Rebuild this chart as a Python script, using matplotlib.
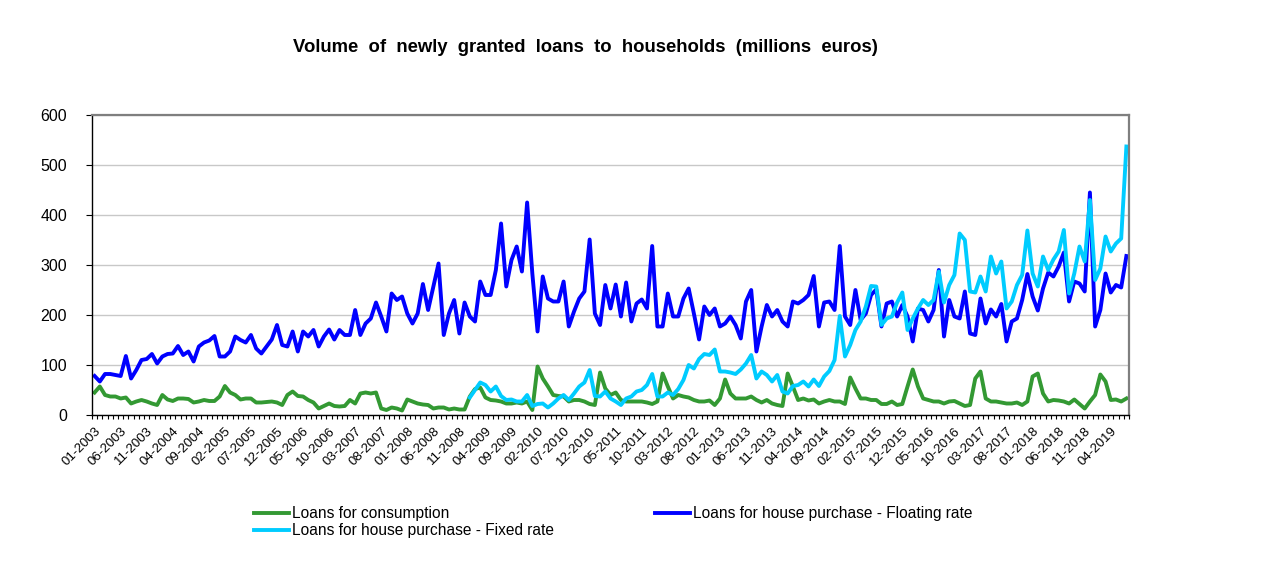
import numpy as np
import pandas as pd
import matplotlib
matplotlib.use("Agg")
import matplotlib.pyplot as plt

plt.rcParams["font.family"] = ["Liberation Sans", "DejaVu Sans"]

# ------------------------------------------------------------
# Data (millions of euros), monthly from 01-2003 to 07-2019
# ------------------------------------------------------------
months = pd.date_range("2003-01-01", periods=199, freq="MS").strftime("%m-%Y").tolist()

consumption = [
    45, 57, 40, 37, 37, 33, 35, 23, 27, 30, 27, 23, 20, 40, 31, 28, 33, 33, 32, 25,
    27, 30, 28, 28, 37, 58, 45, 40, 31, 33, 33, 25, 25, 26,
    27, 25, 20, 40, 47, 38, 37, 30, 25, 13, 18, 23, 18, 17, 18, 30, 23, 43, 45, 43,
    45, 13, 10, 15, 13, 9, 31, 27, 23, 21, 20, 13, 15, 15, 11, 13, 11, 11, 37, 52,
    55, 35,
    30, 29, 27, 23, 23, 25, 23, 27, 10, 97, 73, 57, 40, 38, 37, 27, 30, 30, 27, 22,
    20, 85, 53, 40, 45, 30, 27, 27, 27, 27, 25, 22, 27, 83, 57, 33, 40, 37, 35, 30,
    27, 27, 29,
    20, 33, 71, 43, 33, 33, 33, 37, 30, 25, 30, 23, 20, 18, 83, 57, 30, 33, 29, 31,
    23, 27, 30, 27, 27, 22, 75, 53, 33, 33, 30, 30, 22, 22, 27, 20, 22, 57, 91, 57,
    33, 30,
    27, 27, 23, 27, 28, 23, 18, 20, 73, 87, 33, 27, 27, 25, 23, 23, 25, 20, 27, 77,
    83, 43, 27, 30, 29, 27, 23, 31, 22, 13, 27, 40, 81, 67, 30, 31, 27, 33,
]

floating = [
    78, 67, 82, 82, 80, 78, 118, 73, 90, 110, 112, 122, 103, 117, 122, 123, 138, 120,
    127, 107, 137, 145, 149, 158, 117, 117, 127, 157, 150, 145, 160, 133, 123, 137,
    151, 180, 140, 137, 167, 127, 167, 157, 170, 137, 157, 171, 151, 170, 160, 160,
    210, 160, 183, 193, 225, 197, 167, 243, 230, 237, 203, 183, 203, 262, 210, 257,
    303, 160, 203, 230, 163, 225, 197, 187, 267, 240,
    240, 290, 383, 257, 310, 337, 287, 425, 283, 167, 277, 233, 227, 227, 267, 177,
    207, 233, 247, 351, 203, 180, 260, 213, 261, 197, 265, 187, 223, 231, 213, 338,
    177, 177, 243, 197, 197, 233, 253, 203, 151, 217, 200,
    213, 177, 183, 197, 180, 153, 227, 250, 127, 177, 220, 197, 210, 187, 177, 227,
    223, 230, 240, 278, 177, 225, 227, 210, 338, 197, 180, 250, 190, 203, 240, 251,
    177, 223, 227, 197, 220, 197, 147, 213, 210, 187,
    210, 290, 157, 230, 197, 193, 247, 163, 160, 233, 183, 211, 197, 222, 147, 187,
    193, 230, 282, 237, 209, 253, 285, 277, 297, 325, 227, 267, 263, 247, 445, 177,
    210, 283, 245, 260, 255, 318,
]

# fixed rate series only starts in 01-2009
fixed_start = 72
fixed = [
    35, 50, 65, 60,
    47, 57, 38, 30, 31, 27, 27, 40, 18, 22, 23, 15, 23, 33, 40, 30, 43, 57, 65, 90,
    38, 37, 47, 33, 27, 20, 33, 37, 47, 50, 60, 82, 37, 37, 45, 40, 52, 70, 100, 93,
    112, 122, 120,
    131, 87, 87, 85, 82, 91, 103, 120, 73, 87, 80, 67, 80, 47, 43, 58, 60, 67, 57, 71,
    58, 77, 88, 110, 198, 117, 140, 170, 187, 217, 258, 257, 180, 193, 197, 225, 245,
    170, 193, 213, 230, 220,
    230, 287, 225, 260, 280, 363, 350, 247, 245, 277, 247, 317, 283, 307, 213, 227,
    260, 280, 369, 283, 257, 317, 290, 311, 327, 370, 243, 283, 337, 307, 430, 270,
    293, 357, 327, 343, 353, 537,
]

GREEN = "#339933"
BLUE = "#0000ff"
CYAN = "#00ccff"

# ------------------------------------------------------------
# Figure
# ------------------------------------------------------------
fig = plt.figure(figsize=(12.7, 5.7), dpi=100)
ax = fig.add_axes([92 / 1270, 1 - 415 / 570, (1129 - 92) / 1270, 300 / 570])

x = np.arange(len(months))
x_fixed = np.arange(fixed_start, fixed_start + len(fixed))

ax.plot(x, consumption, color=GREEN, lw=2.8, solid_joinstyle="round",
        label="Loans for consumption")
ax.plot(x, floating, color=BLUE, lw=2.8, solid_joinstyle="round",
        label="Loans for house purchase - Floating rate")
ax.plot(x_fixed, fixed, color=CYAN, lw=2.8, solid_joinstyle="round",
        label="Loans for house purchase - Fixed rate")

ax.set_xlim(-0.5, len(months) - 0.5)
ax.set_ylim(0, 600)
ax.set_yticks(np.arange(0, 601, 100))
ax.tick_params(axis="y", labelsize=11.5, length=4, direction="out", pad=14)
ax.grid(axis="y", color="#c8c8c8", lw=1)
ax.set_axisbelow(True)

lab_pos = np.arange(0, len(months), 5)
ax.set_xticks(lab_pos)
ax.set_xticklabels([months[i] for i in lab_pos], rotation=45, ha="right",
                   rotation_mode="anchor", fontsize=9.5)
ax.tick_params(axis="x", which="major", length=0, pad=7)
ax.set_xticks(np.arange(-0.5, len(months), 1), minor=True)
ax.tick_params(axis="x", which="minor", length=3, direction="out", width=0.8)

for side in ["top", "right"]:
    ax.spines[side].set_color("#7f7f7f")
    ax.spines[side].set_linewidth(1.6)
for side in ["left", "bottom"]:
    ax.spines[side].set_color("black")
    ax.spines[side].set_linewidth(1.0)

fig.text(585 / 1270, 1 - 48 / 570,
         "Volume  of  newly  granted  loans  to  households  (millions  euros)",
         ha="center", va="center", fontsize=13.3, fontweight="bold")

handles, labels = ax.get_legend_handles_labels()
order = [0, 2, 1]
fig.legend([handles[i] for i in order], [labels[i] for i in order],
           loc="upper left", bbox_to_anchor=(254 / 1270, 1 - 506 / 570),
           ncol=2, frameon=False, fontsize=11.2, handlelength=2.25,
           handletextpad=0.2, columnspacing=6.5, labelspacing=0.15,
           borderaxespad=0, borderpad=0)

fig.savefig("out.png", dpi=100)
plt.close(fig)
